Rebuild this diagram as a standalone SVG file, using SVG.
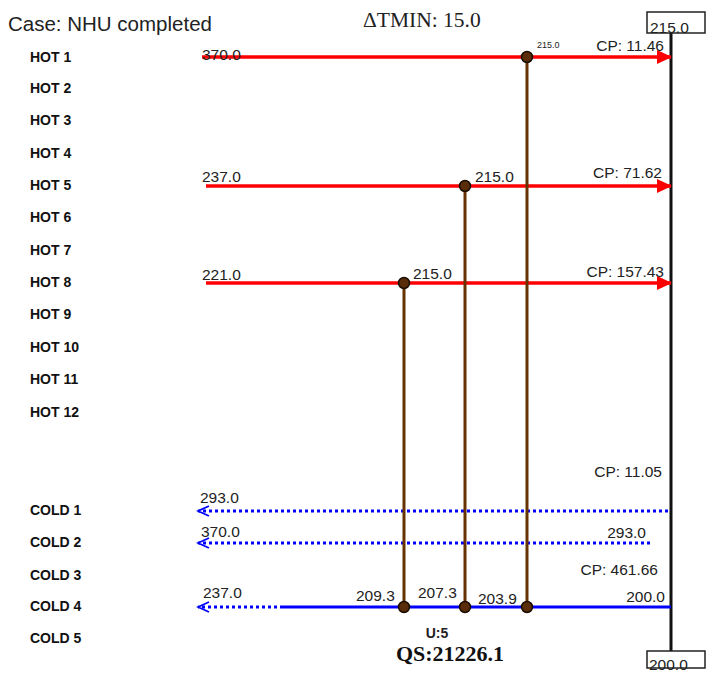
<svg xmlns="http://www.w3.org/2000/svg" width="716" height="688" viewBox="0 0 716 688">
<style>
.lbl{font-family:"Liberation Sans",Arial,sans-serif;font-weight:bold;font-size:14px;fill:#111}
.num{font-family:"Liberation Sans",Arial,sans-serif;font-size:15.5px;fill:#222}
.hot{stroke:#ff0000;stroke-width:3.5;fill:none}
.cold{stroke:#0000ff;stroke-width:3;fill:none}
.dot{stroke-dasharray:3 3}
.hx{stroke:#663300;stroke-width:3;fill:none}
.node{fill:#5a2d0a;stroke:#1a0d00;stroke-width:1.5}
.box{fill:#fff;stroke:#222;stroke-width:1.5}
</style>
<defs>
<marker id="ah" markerWidth="15" markerHeight="14" refX="14" refY="7" orient="auto" markerUnits="userSpaceOnUse">
<path d="M0,0 L15,7 L0,14 Z" fill="#ff0000"/>
</marker>
<marker id="ca" markerWidth="14" markerHeight="12" refX="12" refY="6" orient="auto" markerUnits="userSpaceOnUse">
<path d="M1,1 L12,6 L1,11" fill="none" stroke="#0000ff" stroke-width="1.8"/>
</marker>
</defs>
<rect width="716" height="688" fill="#fff"/>
<text x="8" y="31" font-family="Liberation Sans,Arial,sans-serif" font-size="20.5" fill="#222">Case: NHU completed</text>
<text x="363" y="27" font-family="Liberation Serif,Times New Roman,serif" font-size="21.5" fill="#222">ΔTMIN: 15.0</text>
<g id="labels">
<text class="lbl" x="30" y="62">HOT 1</text>
<text class="lbl" x="30" y="93">HOT 2</text>
<text class="lbl" x="30" y="125">HOT 3</text>
<text class="lbl" x="30" y="158">HOT 4</text>
<text class="lbl" x="30" y="190">HOT 5</text>
<text class="lbl" x="30" y="222">HOT 6</text>
<text class="lbl" x="30" y="255">HOT 7</text>
<text class="lbl" x="30" y="287">HOT 8</text>
<text class="lbl" x="30" y="319">HOT 9</text>
<text class="lbl" x="30" y="352">HOT 10</text>
<text class="lbl" x="30" y="384">HOT 11</text>
<text class="lbl" x="30" y="417">HOT 12</text>
<text class="lbl" x="30" y="515">COLD 1</text>
<text class="lbl" x="30" y="547">COLD 2</text>
<text class="lbl" x="30" y="580">COLD 3</text>
<text class="lbl" x="30" y="611">COLD 4</text>
<text class="lbl" x="30" y="643">COLD 5</text>
</g>
<g id="boundary">
<line x1="671" y1="33" x2="671" y2="651" stroke="#111" stroke-width="3"/>
<rect class="box" x="647" y="12" width="58" height="21"/>
<text class="num" x="650" y="33">215.0</text>
<rect class="box" x="647" y="651" width="58" height="17"/>
<text class="num" x="649" y="670">200.0</text>
</g>
<g id="connectors">
<line class="hot" x1="202" y1="57" x2="671" y2="57" marker-end="url(#ah)"/>
<line class="hot" x1="206" y1="186" x2="671" y2="186" marker-end="url(#ah)"/>
<line class="hot" x1="206" y1="283" x2="671" y2="283" marker-end="url(#ah)"/>
<line class="cold dot" x1="668" y1="511" x2="198" y2="511" marker-end="url(#ca)"/>
<line class="cold dot" x1="650" y1="543" x2="198" y2="543" marker-end="url(#ca)"/>
<line class="cold" x1="671" y1="607" x2="283" y2="607"/>
<line class="cold dot" x1="283" y1="607" x2="198" y2="607" marker-end="url(#ca)"/>
<line class="hx" x1="527" y1="57" x2="527" y2="607"/>
<line class="hx" x1="465" y1="186" x2="465" y2="607"/>
<line class="hx" x1="404" y1="283" x2="404" y2="607"/>
</g>
<g id="hx1">
<circle class="node" cx="527" cy="57" r="5.5"/>
<circle class="node" cx="527" cy="607" r="5.5"/>
<text x="537" y="48" font-family="Liberation Sans,Arial,sans-serif" font-size="9" fill="#222">215.0</text>
<text class="num" x="478" y="604">203.9</text>
</g>
<g id="hx2">
<circle class="node" cx="465" cy="186" r="5.5"/>
<circle class="node" cx="465" cy="607" r="5.5"/>
<text class="num" x="475" y="182">215.0</text>
<text class="num" x="418" y="598">207.3</text>
</g>
<g id="hx3">
<circle class="node" cx="404" cy="283" r="5.5"/>
<circle class="node" cx="404" cy="607" r="5.5"/>
<text class="num" x="413" y="279">215.0</text>
<text class="num" x="356" y="601">209.3</text>
</g>
<g id="streamtexts">
<text class="num" x="202" y="60">370.0</text>
<text class="num" x="202" y="182">237.0</text>
<text class="num" x="202" y="280">221.0</text>
<text class="num" x="664" y="51" text-anchor="end">CP: 11.46</text>
<text class="num" x="662" y="178" text-anchor="end">CP: 71.62</text>
<text class="num" x="664" y="277" text-anchor="end">CP: 157.43</text>
<text class="num" x="662" y="477" text-anchor="end">CP: 11.05</text>
<text class="num" x="200" y="503">293.0</text>
<text class="num" x="201" y="537">370.0</text>
<text class="num" x="646" y="538" text-anchor="end">293.0</text>
<text class="num" x="658" y="575" text-anchor="end">CP: 461.66</text>
<text class="num" x="203" y="598">237.0</text>
<text class="num" x="665" y="602" text-anchor="end">200.0</text>
</g>
<text x="437" y="638" text-anchor="middle" font-family="Liberation Sans,Arial,sans-serif" font-weight="bold" font-size="14" fill="#222">U:5</text>
<text x="450" y="661" text-anchor="middle" font-family="Liberation Serif,Times New Roman,serif" font-weight="bold" font-size="22" fill="#111">QS:21226.1</text>
</svg>
